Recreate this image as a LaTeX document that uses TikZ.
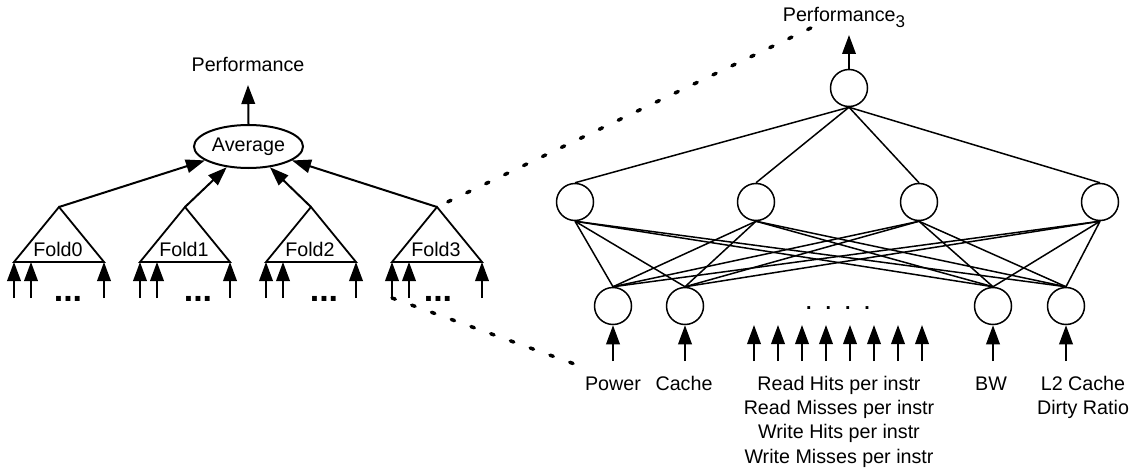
\documentclass[tikz,border=0pt]{standalone}
\usepackage{fontspec}
\setmainfont{Liberation Sans}
\usetikzlibrary{arrows.meta,shapes.geometric}
\begin{document}
\begin{tikzpicture}[x=1pt,y=-1pt,
  lbl/.style={font=\fontsize{19.7}{24.3}\selectfont, inner sep=0pt},
  arr/.style={line width=2pt, -{Triangle[length=19pt,width=13.5pt]}},
  netline/.style={line width=1.5pt},
  neuron/.style={draw, circle, line width=1.5pt, minimum size=37pt, inner sep=0pt},
  dotline/.style={line width=3.5pt, line cap=round, dash pattern=on 3.5pt off 17.5pt},
  tri/.style={line width=1.8pt, line join=miter},
  bigdots/.style={font=\fontsize{34}{34}\selectfont\bfseries, inner sep=0pt}
]
\useasboundingbox (0,0) rectangle (1132,468);

% ---------- left part ----------
\node[draw, ellipse, line width=2pt, minimum width=109pt, minimum height=43pt, inner sep=0pt, font=\fontsize{19.7}{24.3}\selectfont] (avg) at (248.5,146.5) {Average};
\node[lbl, anchor=base] (perf) at (248,72) {Performance};
\coordinate (perftip) at (248,85);
\draw[arr] (avg.north) -- (perftip);

\foreach \i/\x/\d in {0/59/68,1/185/198,2/311/324,3/437/438} {
  \coordinate (ap\i) at (\x,207);
  \coordinate (bl\i) at (\x-45,262);
  \coordinate (br\i) at (\x+45,262);
  \draw[tri] (ap\i) -- (bl\i) -- (br\i) -- cycle;
  \node[lbl] (fold\i) at (\x-1,249) {Fold\i};
  \draw[arr] (ap\i) -- (avg);
  \coordinate (s\i-1) at (\x-45,298); \coordinate (t\i-1) at (\x-45,262);
  \coordinate (s\i-2) at (\x-28,298); \coordinate (t\i-2) at (\x-28,262);
  \coordinate (s\i-3) at (\x+45,298); \coordinate (t\i-3) at (\x+45,262);
  \draw[arr] (s\i-1) -- (t\i-1);
  \draw[arr] (s\i-2) -- (t\i-2);
  \draw[arr] (s\i-3) -- (t\i-3);
  \node[bigdots, anchor=base] (dots\i) at (\d,301.5) {...};
}

% ---------- right part ----------
\node[neuron] (o) at (849,88) {};
\node[neuron] (h1) at (575,202) {};
\node[neuron] (h2) at (756,202) {};
\node[neuron] (h3) at (919,202) {};
\node[neuron] (h4) at (1100,202) {};
\node[neuron] (i1) at (613,306) {};
\node[neuron] (i2) at (685,306) {};
\node[neuron] (i3) at (993,306) {};
\node[neuron] (i4) at (1066,306) {};

\foreach \h in {1,2,3,4} {
  \draw[netline] (o.south) -- (h\h.north);
  \foreach \j in {1,2,3,4} {
    \draw[netline] (h\h.south) -- (i\j.north);
  }
}

\node[lbl, anchor=base] (perf3) at (844,22) {Performance\raisebox{-6pt}{\fontsize{17}{17}\selectfont 3}};
\coordinate (otip) at (849,35);
\draw[arr] (o.north) -- (otip);

\foreach \j/\x in {1/613,2/685,3/993,4/1066} {
  \coordinate (is\j) at (\x,361);
  \draw[arr] (is\j) -- (i\j.south);
}

\foreach \k in {0,...,7} {
  \coordinate (ms\k) at (754+24*\k,361);
  \coordinate (mt\k) at (754+24*\k,325);
  \draw[arr] (ms\k) -- (mt\k);
}

\node[lbl, anchor=base, font=\fontsize{19.7}{24.3}\selectfont\bfseries] (mdots) at (838,309) {.\hspace{14pt}.\hspace{14pt}.\hspace{14pt}.};

\node[lbl, anchor=base] (power) at (613,390) {Power};
\node[lbl, anchor=base] (cache) at (684,390) {Cache};
\node[lbl, anchor=base] (bw) at (991,390) {BW};
\node[lbl, anchor=north, align=center] (reads) at (839,375.7) {Read Hits per instr\\Read Misses per instr\\Write Hits per instr\\Write Misses per instr};
\node[lbl, anchor=north, align=center] (l2) at (1083,375.7) {L2 Cache\\Dirty Ratio};

% ---------- dotted zoom lines ----------
\coordinate (zup) at (815,26);
\coordinate (zlow) at (580,366);
\draw[dotline, dash phase=9pt] (ap3) -- (zup);
\draw[dotline] (s3-1) -- (zlow);
\end{tikzpicture}
\end{document}
